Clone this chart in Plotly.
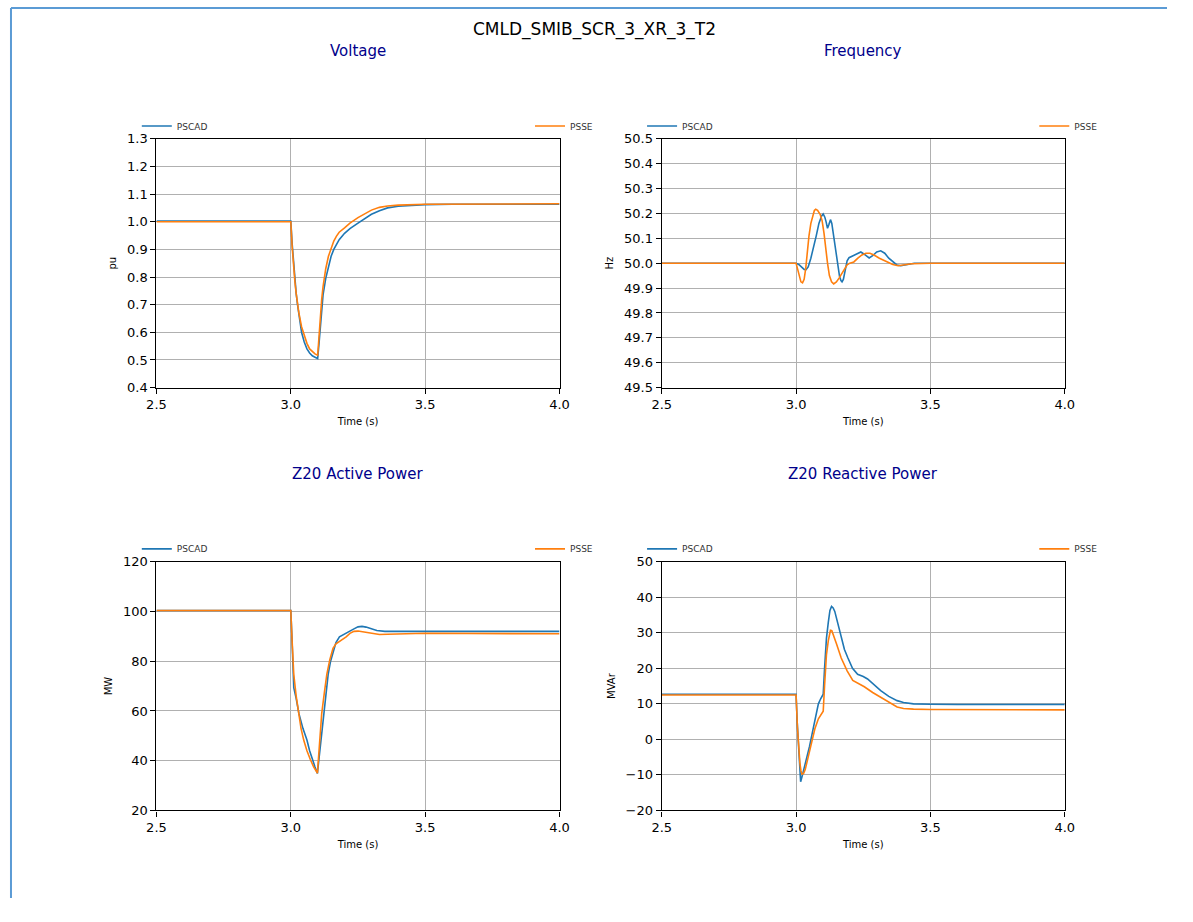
import plotly.graph_objects as go

# ---------------- data ----------------
volt_pscad_t = [2.5, 3.0, 3.005, 3.01, 3.015, 3.02, 3.025, 3.03, 3.035, 3.04, 3.05, 3.06, 3.07, 3.08, 3.09, 3.1,
                3.105, 3.11, 3.115, 3.12, 3.13, 3.14, 3.15, 3.16, 3.17, 3.18, 3.2, 3.22, 3.25, 3.28, 3.3, 3.33, 3.36, 3.4, 3.45, 3.5, 3.6, 4.0]
volt_pscad_v = [1.002, 1.002, 0.92, 0.85, 0.79, 0.74, 0.70, 0.665, 0.63, 0.60, 0.565, 0.54, 0.525, 0.515, 0.51, 0.505,
                0.56, 0.63, 0.69, 0.735, 0.795, 0.84, 0.875, 0.90, 0.92, 0.935, 0.958, 0.975, 0.995, 1.015, 1.027, 1.04, 1.05, 1.056, 1.06, 1.062, 1.063, 1.063]
volt_psse_t = [2.5, 3.0, 3.005, 3.01, 3.015, 3.02, 3.025, 3.03, 3.04, 3.05, 3.06, 3.07, 3.08, 3.09, 3.1,
               3.105, 3.11, 3.115, 3.12, 3.13, 3.14, 3.15, 3.16, 3.17, 3.18, 3.2, 3.22, 3.25, 3.28, 3.3, 3.33, 3.36, 3.4, 3.5, 4.0]
volt_psse_v = [1.0, 1.0, 0.91, 0.84, 0.785, 0.74, 0.70, 0.67, 0.62, 0.585, 0.56, 0.54, 0.53, 0.522, 0.517,
               0.60, 0.67, 0.72, 0.765, 0.83, 0.875, 0.905, 0.93, 0.948, 0.962, 0.978, 0.995, 1.015, 1.033, 1.042, 1.052, 1.057, 1.06, 1.063, 1.065]

freq_pscad_t = [2.5, 3.0, 3.01, 3.02, 3.03, 3.037, 3.045, 3.055, 3.065, 3.075, 3.085, 3.095, 3.101, 3.107, 3.112, 3.117,
                3.122, 3.128, 3.133, 3.14, 3.148, 3.155, 3.162, 3.167, 3.171, 3.176, 3.183, 3.19, 3.197, 3.21, 3.225,
                3.241, 3.255, 3.272, 3.285, 3.3, 3.315, 3.33, 3.345, 3.36, 3.375, 3.39, 3.41, 3.44, 4.0]
freq_pscad_v = [50.0, 50.0, 49.995, 49.985, 49.975, 49.974, 49.985, 50.02, 50.06, 50.11, 50.16, 50.19, 50.198, 50.185, 50.165, 50.14,
                50.155, 50.175, 50.16, 50.11, 50.05, 49.99, 49.945, 49.93, 49.925, 49.935, 49.97, 50.01, 50.022, 50.028, 50.035,
                50.045, 50.035, 50.021, 50.03, 50.045, 50.05, 50.04, 50.02, 50.005, 49.993, 49.99, 49.995, 50.0, 50.0]
freq_psse_t = [2.5, 3.0, 3.006, 3.012, 3.018, 3.024, 3.03, 3.036, 3.042, 3.048, 3.055, 3.062, 3.068, 3.073, 3.08, 3.09,
               3.097, 3.104, 3.11, 3.117, 3.124, 3.132, 3.14, 3.15, 3.16, 3.175, 3.19, 3.2, 3.215, 3.23, 3.245, 3.26,
               3.275, 3.29, 3.31, 3.34, 3.36, 3.38, 3.4, 3.43, 3.5, 4.0]
freq_psse_v = [50.0, 50.0, 49.975, 49.945, 49.925, 49.921, 49.935, 49.98, 50.05, 50.11, 50.16, 50.195, 50.212, 50.217, 50.212, 50.195,
               50.17, 50.12, 50.06, 50.0, 49.95, 49.925, 49.917, 49.925, 49.94, 49.965, 49.993, 50.0, 50.005, 50.02, 50.033, 50.04,
               50.04, 50.033, 50.02, 50.005, 49.995, 49.99, 49.993, 49.998, 50.0, 50.0]

p_pscad_t = [2.5, 3.0, 3.004, 3.008, 3.011, 3.02, 3.03, 3.045, 3.06, 3.07, 3.08, 3.09, 3.099, 3.105, 3.11, 3.115, 3.121,
             3.13, 3.139, 3.148, 3.157, 3.168, 3.181, 3.2, 3.218, 3.235, 3.25, 3.265, 3.28, 3.3, 3.32, 3.35, 3.4, 3.5, 3.6, 4.0]
p_pscad_v = [100.4, 100.4, 90.0, 76.0, 69.4, 65.0, 59.0, 53.0, 48.3, 44.0, 40.5, 37.5, 34.9, 41.0, 47.0, 53.0, 58.9,
             67.0, 74.7, 80.0, 83.9, 87.5, 89.8, 91.0, 91.8, 93.0, 93.8, 94.0, 93.7, 92.9, 92.3, 92.0, 92.0, 92.2, 92.0, 92.0]
p_psse_t = [2.5, 3.0, 3.004, 3.008, 3.011, 3.02, 3.029, 3.038, 3.048, 3.06, 3.073, 3.085, 3.099, 3.105, 3.11, 3.115,
            3.125, 3.134, 3.145, 3.157, 3.168, 3.181, 3.195, 3.206, 3.22, 3.235, 3.25, 3.265, 3.28, 3.3, 3.33, 3.36, 3.4, 3.5, 4.0]
p_psse_v = [100.4, 100.4, 90.0, 80.0, 74.7, 66.0, 58.9, 53.0, 48.3, 44.0, 40.4, 37.5, 35.0, 43.0, 50.0, 58.9,
            67.5, 74.7, 80.5, 85.2, 87.0, 87.9, 89.0, 89.8, 91.2, 92.0, 92.1, 91.8, 91.4, 91.0, 90.7, 90.8, 91.0, 91.2, 91.0]

q_pscad_t = [2.5, 3.0, 3.004, 3.009, 3.013, 3.017, 3.022, 3.03, 3.04, 3.05, 3.065, 3.075, 3.083, 3.092, 3.101, 3.106, 3.113,
             3.12, 3.126, 3.132, 3.138, 3.144, 3.155, 3.168, 3.18, 3.193, 3.21, 3.229, 3.25, 3.266, 3.29, 3.315, 3.345,
             3.376, 3.4, 3.437, 3.5, 3.6, 4.0]
q_pscad_v = [12.7, 12.7, 5.0, -3.0, -9.0, -11.9, -10.5, -8.0, -5.7, -2.0, 3.5, 7.5, 10.0, 11.5, 12.7, 20.0, 28.4,
             33.0, 36.3, 37.4, 37.0, 36.0, 32.5, 28.4, 25.3, 22.9, 20.0, 18.3, 17.7, 17.0, 15.3, 13.7, 12.1,
             10.9, 10.4, 10.0, 9.9, 9.8, 9.8]
q_psse_t = [2.5, 3.0, 3.005, 3.01, 3.014, 3.018, 3.022, 3.028, 3.034, 3.045, 3.059, 3.07, 3.083, 3.092, 3.101, 3.106, 3.113,
            3.12, 3.128, 3.133, 3.138, 3.15, 3.168, 3.19, 3.211, 3.23, 3.254, 3.285, 3.315, 3.345, 3.376, 3.4, 3.437, 3.5, 4.0]
q_psse_v = [12.5, 12.5, 3.5, -3.0, -6.5, -8.8, -9.8, -9.6, -8.5, -5.0, -0.2, 3.0, 5.8, 7.0, 7.9, 15.0, 23.8,
            27.8, 30.7, 30.6, 29.6, 27.0, 22.9, 19.3, 16.6, 15.8, 14.8, 13.2, 11.8, 10.3, 9.1, 8.7, 8.5, 8.4, 8.3]

series_names = ["PSCAD", "PSSE"]
colors = ["#1f77b4", "#ff7f0e"]

panel_titles = ["Voltage", "Frequency", "Z20 Active Power", "Z20 Reactive Power"]
y_titles = ["pu", "Hz", "MW", "MVAr"]
y_ranges = [[0.4, 1.3], [49.5, 50.5], [20, 120], [-20, 50]]
y_dticks = [0.1, 0.1, 20, 10]
y_formats = [".1f", ".1f", "d", "d"]
x_ticks = [2.5, 3.0, 3.5, 4.0]

panels = [
    [(volt_pscad_t, volt_pscad_v), (volt_psse_t, volt_psse_v)],
    [(freq_pscad_t, freq_pscad_v), (freq_psse_t, freq_psse_v)],
    [(p_pscad_t, p_pscad_v), (p_psse_t, p_psse_v)],
    [(q_pscad_t, q_pscad_v), (q_psse_t, q_psse_v)],
]

# ---------------- layout geometry ----------------
# The page body keeps an 8px margin, so the figure is 16px smaller than the
# window and every target pixel position is shifted by OFF.
OFF = 8
W, H = 1193 - 2 * OFF, 922 - 2 * OFF
FONT = "DejaVu Sans"


def px(x):
    return (x - OFF) / W


def py(y):
    return 1 - (y - OFF) / H


x_dom = [[px(157), px(567)], [px(671), px(1081)]]
y_dom = [[py(395), py(142)], [py(825), py(572)]]
legend_left = [[137, 537], [651, 1050]]

fig = go.Figure()
layout = dict(
    width=W, height=H,
    margin=dict(l=0, r=0, t=0, b=0),
    paper_bgcolor="white", plot_bgcolor="white",
    font=dict(family=FONT, color="black", size=13),
    showlegend=True,
)

annotations = []
for i in range(4):
    row, col = divmod(i, 2)
    n = i + 1
    xa = "xaxis" if n == 1 else f"xaxis{n}"
    ya = "yaxis" if n == 1 else f"yaxis{n}"
    xr = "x" if n == 1 else f"x{n}"
    yr = "y" if n == 1 else f"y{n}"
    for k, (t, v) in enumerate(panels[i]):
        idx = 2 * i + k
        leg_id = f"legend{idx + 1}" if idx > 0 else "legend"
        fig.add_trace(go.Scatter(
            x=t, y=v, mode="lines", name=series_names[k],
            line=dict(color=colors[k], width=1.6),
            xaxis=xr, yaxis=yr, legend=leg_id,
        ))
        layout[leg_id] = dict(
            x=px(legend_left[col][k]), y=py(129 if row == 0 else 559),
            xanchor="left", yanchor="middle",
            bgcolor="rgba(0,0,0,0)", borderwidth=0,
            font=dict(size=9, family=FONT, color="#333333"),
            itemwidth=30,
        )
    layout[xa] = dict(
        domain=x_dom[col], anchor=yr, range=[2.5, 4.0],
        tickvals=x_ticks, tickformat=".1f",
        showline=True, linecolor="black", linewidth=1.3, mirror=True,
        ticks="outside", ticklen=5, tickcolor="black",
        showgrid=True, gridcolor="#b0b0b0", gridwidth=1.2,
        zeroline=False,
        title=dict(text="Time (s)", font=dict(size=10, family=FONT), standoff=6),
        tickfont=dict(size=13, family=FONT),
    )
    layout[ya] = dict(
        domain=y_dom[row], anchor=xr, range=y_ranges[i],
        dtick=y_dticks[i], tick0=y_ranges[i][0], tickformat=y_formats[i],
        showline=True, linecolor="black", linewidth=1.3, mirror=True,
        ticks="outside", ticklen=5, tickcolor="black",
        showgrid=True, gridcolor="#b0b0b0", gridwidth=1.2,
        zeroline=False,
        title=dict(text=y_titles[i], font=dict(size=10, family=FONT), standoff=8),
        tickfont=dict(size=13, family=FONT),
    )
    annotations.append(dict(
        text=panel_titles[i], xref="paper", yref="paper",
        x=(x_dom[col][0] + x_dom[col][1]) / 2,
        y=py(53 if row == 0 else 483),
        xanchor="center", yanchor="middle", showarrow=False,
        font=dict(size=15, color="#00008B", family=FONT),
    ))

annotations.append(dict(
    text="CMLD_SMIB_SCR_3_XR_3_T2", xref="paper", yref="paper",
    x=px(603), y=py(31), xanchor="center", yanchor="middle",
    showarrow=False, font=dict(size=17, color="black", family=FONT),
))
layout["annotations"] = annotations

bx, by = 1 / W, 1 - 1 / H
layout["shapes"] = [
    dict(type="line", xref="paper", yref="paper", x0=bx, x1=bx, y0=0, y1=by,
         line=dict(color="#5B9BD5", width=2)),
    dict(type="line", xref="paper", yref="paper", x0=bx, x1=1, y0=by, y1=by,
         line=dict(color="#5B9BD5", width=2)),
]

fig.update_layout(**layout)
fig.write_html("out.html")
